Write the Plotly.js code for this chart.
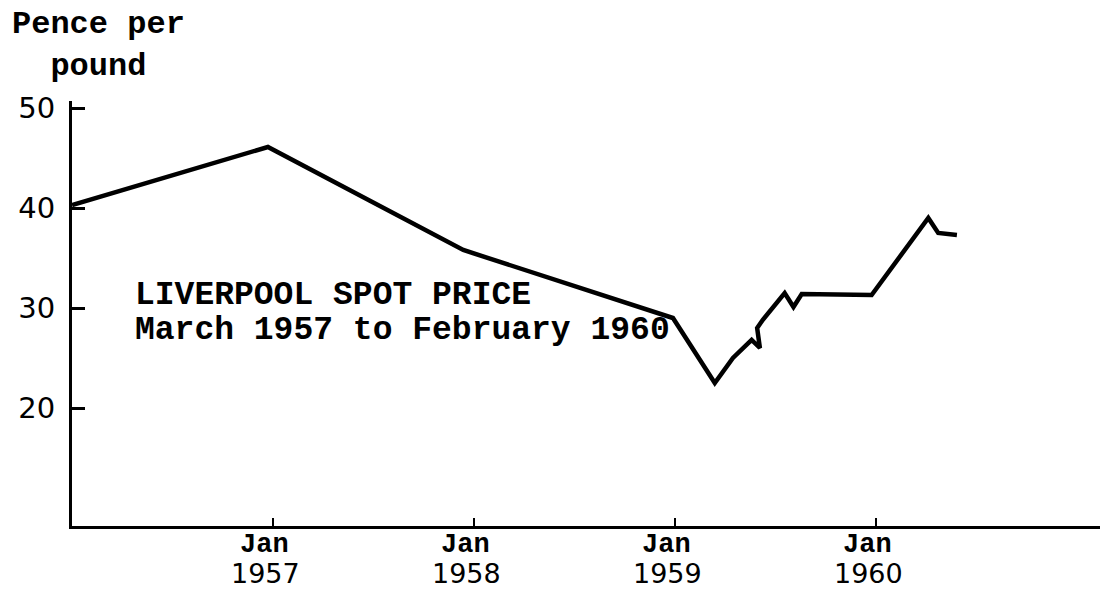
<!DOCTYPE html>
<html>
<head>
<meta charset="utf-8">
<script src="https://cdn.plot.ly/plotly-3.0.1.min.js"></script>
<style>
  html, body { margin: 0; padding: 0; background: #ffffff; }
  #chart { width: 1106px; height: 591px; }
</style>
</head>
<body>
<div id="chart"></div>
<script>
// Liverpool spot price, pence per pound
const dates = [
  '1956-01-01', '1956-12-22', '1957-12-12', '1958-12-28', '1959-03-14',
  '1959-04-16', '1959-05-20', '1959-06-04', '1959-05-30', '1959-06-09',
  '1959-07-19', '1959-08-04', '1959-08-19', '1959-12-24', '1960-04-05',
  '1960-04-23', '1960-05-27'
];
const prices = [
  40.3, 46.1, 35.8, 29.0, 22.5,
  25.0, 26.8, 26.0, 28.0, 28.8,
  31.5, 30.1, 31.4, 31.3, 39.0,
  37.5, 37.3
];
const xTickVals = ['1957-01-01', '1958-01-01', '1959-01-01', '1960-01-01'];
const xTickMonth = ['Jan', 'Jan', 'Jan', 'Jan'];
const xTickYear = ['1957', '1958', '1959', '1960'];
const yTickVals = [20, 30, 40, 50];
const yTitle = 'Pence per<br>pound';
const noteLines = ['LIVERPOOL SPOT PRICE', 'March 1957 to February 1960'];

const mono = '"Liberation Mono", "Courier New", monospace';
const sans = '"DejaVu Sans", Arial, sans-serif';

const trace = {
  x: dates,
  y: prices,
  type: 'scatter',
  mode: 'lines',
  line: { color: '#000000', width: 4.5, shape: 'linear' },
  hoverinfo: 'skip'
};

const annotations = [
  {
    xref: 'paper', yref: 'paper',
    x: 0.0253, y: 1.228,
    xanchor: 'center', yanchor: 'top',
    align: 'center',
    showarrow: false,
    text: '<b>' + yTitle + '</b>',
    font: { family: mono, size: 32, color: '#000000' }
  }
];
const noteTops = [0.5906, 0.508];
noteLines.forEach((t, i) => {
  annotations.push({
    xref: 'paper', yref: 'paper',
    x: 0.0593, y: noteTops[i],
    xanchor: 'left', yanchor: 'top',
    align: 'left',
    showarrow: false,
    text: '<b>' + t + '</b>',
    font: { family: mono, size: 33, color: '#000000' }
  });
});
xTickVals.forEach((v, i) => {
  annotations.push({
    xref: 'x', yref: 'paper',
    x: v, y: -0.0047,
    xanchor: 'center', yanchor: 'top',
    xshift: -9,
    showarrow: false,
    text: '<b>' + xTickMonth[i] + '</b>',
    font: { family: mono, size: 27, color: '#000000' }
  });
  annotations.push({
    xref: 'x', yref: 'paper',
    x: v, y: -0.152,
    xanchor: 'center', yanchor: 'bottom',
    xshift: -8,
    showarrow: false,
    text: xTickYear[i],
    font: { family: sans, size: 27, color: '#000000' }
  });
});

const layout = {
  width: 1106,
  height: 591,
  margin: { l: 72, r: 6, t: 101, b: 65 },
  paper_bgcolor: '#ffffff',
  plot_bgcolor: '#ffffff',
  showlegend: false,
  xaxis: {
    type: 'date',
    range: ['1956-01-01', '1961-02-11'],
    showgrid: false,
    zeroline: false,
    showline: true,
    linecolor: '#000000',
    linewidth: 3,
    ticks: 'inside',
    ticklen: 8,
    tickwidth: 2,
    tickcolor: '#000000',
    tickmode: 'array',
    tickvals: xTickVals,
    showticklabels: false
  },
  yaxis: {
    range: [8.2, 50.7],
    showgrid: false,
    zeroline: false,
    showline: true,
    linecolor: '#000000',
    linewidth: 3,
    ticks: 'inside',
    ticklen: 13,
    tickwidth: 3,
    tickcolor: '#000000',
    tickmode: 'array',
    tickvals: yTickVals,
    ticktext: yTickVals.map(String),
    ticklabelstandoff: 8,
    tickfont: { family: sans, size: 29, color: '#000000' }
  },
  annotations: annotations
};

Plotly.newPlot('chart', [trace], layout, { staticPlot: true, displayModeBar: false });
</script>
</body>
</html>
